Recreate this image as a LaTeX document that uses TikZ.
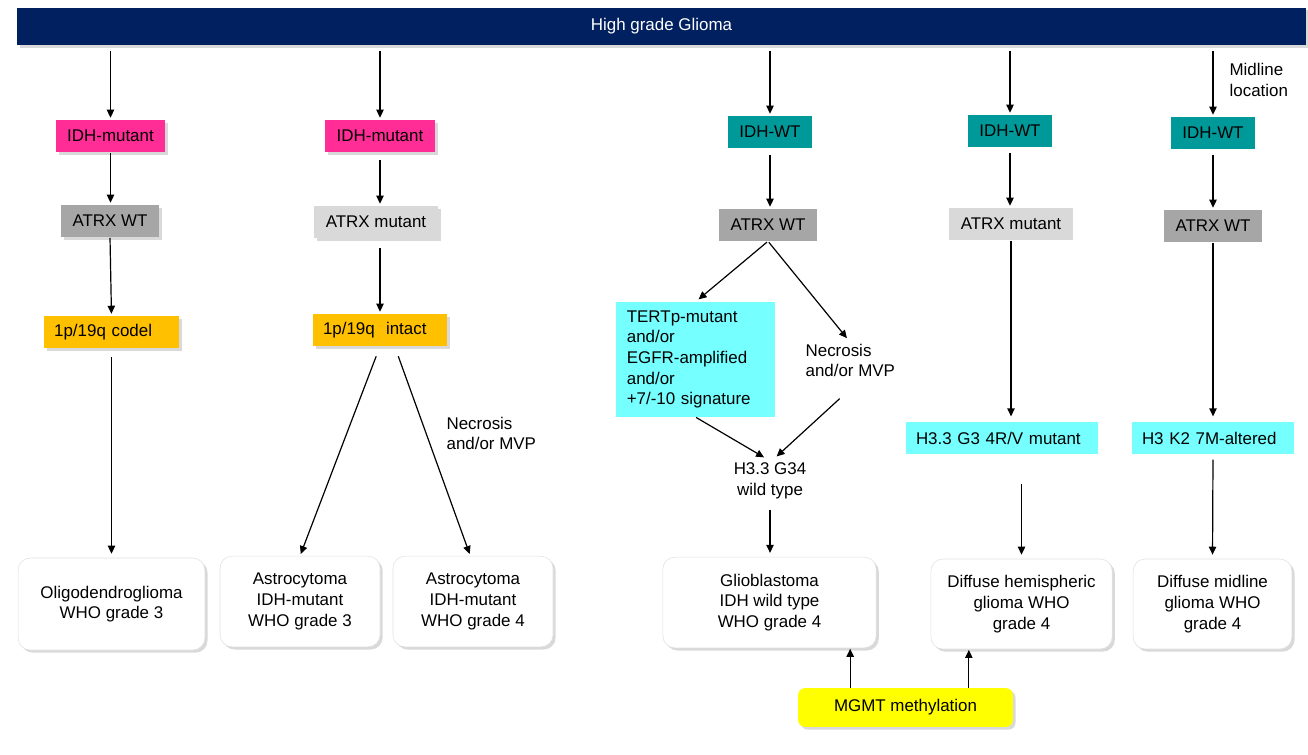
\documentclass[tikz,border=0pt]{standalone}
\usepackage{fontspec}
\setmainfont{Liberation Sans}
\usetikzlibrary{arrows.meta,shadows}

\definecolor{navybar}{RGB}{0,32,96}
\definecolor{idhpink}{RGB}{255,45,149}
\definecolor{idhteal}{RGB}{0,153,153}
\definecolor{atrxdark}{RGB}{166,166,166}
\definecolor{atrxlight}{RGB}{217,217,217}
\definecolor{codelorange}{RGB}{255,192,0}
\definecolor{histcyan}{RGB}{117,255,255}
\definecolor{mgmtyellow}{RGB}{255,255,0}

\tikzset{
  arr/.style={draw, line width=0.9pt, -{Triangle[length=6pt,width=5.5pt]}, shorten <=4pt, shorten >=1.5pt},
  boxshadow/.style={drop shadow={shadow xshift=2pt, shadow yshift=-2pt, opacity=0.3}},
  tag/.style={rectangle, inner sep=0pt, minimum height=24pt, align=center},
  tagleft/.style={rectangle, inner ysep=0pt, inner xsep=7.5pt, minimum height=24pt, align=left, text width=#1},
  result/.style={rectangle, rounded corners=9pt, fill=white, draw=black!12, inner sep=0pt, align=center, boxshadow},
  note/.style={inner sep=1pt, align=left},
}

\begin{document}
\begin{tikzpicture}[x=0.75pt, y=-0.75pt, font=\fontsize{12.7}{15.5}\selectfont]
  \useasboundingbox (0,0) rectangle (1308,755);

  % top bar
  \node[rectangle, fill=navybar, text=white, minimum width=967pt, minimum height=28pt, inner sep=0pt, boxshadow] (title) at (661.5,26.5) {High grade Glioma};

  % oligodendroglioma column
  \node[tag, fill=idhpink, minimum width=81.75pt, boxshadow] (idhA) at (110.5,136) {IDH-mutant};
  \node[tag, fill=atrxdark, minimum width=73.5pt, boxshadow] (atrxA) at (110,221) {ATRX WT};
  \node[tagleft=86pt, fill=codelorange, boxshadow] (codelA) at (111.5,332) {1p/19q codel};
  \node[result, minimum width=140pt, minimum height=69pt] (oligo) at (111.5,604) {Oligodendroglioma\\WHO grade 3};

  % astrocytoma column
  \node[tag, fill=idhpink, minimum width=82.5pt, boxshadow] (idhB) at (380,136) {IDH-mutant};
  \node[tag, fill=atrxlight, minimum width=93pt, boxshadow] (atrxB) at (376,222) {ATRX mutant};
  \node[tagleft=85.5pt, fill=codelorange, boxshadow] (intactB) at (380,330) {1p/19q\ \ intact};
  \node[note, anchor=west] (necB) at (445,433.5) {Necrosis\\and/or MVP};
  \node[result, minimum width=120pt, minimum height=68pt] (astroIII) at (300,601.5) {Astrocytoma\\IDH-mutant\\WHO grade 3};
  \node[result, minimum width=120pt, minimum height=68pt] (astroIV) at (473,601.5) {Astrocytoma\\IDH-mutant\\WHO grade 4};

  % glioblastoma column
  \node[tag, fill=idhteal, minimum width=63pt] (idhC) at (770,132) {IDH-WT};
  \node[tag, fill=atrxdark, minimum width=74pt] (atrxC) at (768,225) {ATRX WT};
  \node[tagleft=103pt, inner xsep=8pt, fill=histcyan, minimum height=86pt] (tertC) at (695.5,359.5) {TERTp-mutant\\and/or\\EGFR-amplified\\and/or\\+7/-10 signature};
  \node[note, anchor=west] (necC) at (804,360.5) {Necrosis\\and/or MVP};
  \node[note, align=center, inner sep=2pt] (wildC) at (770,481) {H3.3 G34\\wild type};
  \node[result, minimum width=160pt, minimum height=68pt] (gbm) at (769.5,602.5) {Glioblastoma\\IDH wild type\\WHO grade 4};

  % hemispheric column
  \node[tag, fill=idhteal, minimum width=63pt] (idhD) at (1010,131) {IDH-WT};
  \node[tag, fill=atrxlight, minimum width=93pt] (atrxD) at (1011,224) {ATRX mutant};
  \node[tagleft=129pt, fill=histcyan] (h33D) at (1002,438) {H3.3 G3 4R/V mutant};
  \node[result, minimum width=136pt, minimum height=67.5pt] (hemi) at (1021.5,604) {Diffuse hemispheric\\glioma WHO\\grade 4};

  % midline column
  \node[note, anchor=west] (midlineE) at (1228,80) {Midline\\location};
  \node[tag, fill=idhteal, minimum width=63pt] (idhE) at (1213,133) {IDH-WT};
  \node[tag, fill=atrxdark, minimum width=74pt] (atrxE) at (1213,226) {ATRX WT};
  \node[tagleft=106.5pt, fill=histcyan] (k27E) at (1213,438) {H3 K2 7M-altered};
  \node[result, minimum width=119pt, minimum height=67.5pt] (midl) at (1212.5,604) {Diffuse midline\\glioma WHO\\grade 4};

  \node[rectangle, rounded corners=5pt, fill=mgmtyellow, minimum width=161pt, minimum height=29pt, inner sep=0pt, boxshadow] (mgmt) at (905.5,707.5) {MGMT methylation};

  % connectors
  \draw[arr] (title.south -| idhA.north) -- (idhA.north);
  \draw[arr] (title.south -| idhB.north) -- (idhB.north);
  \draw[arr] (title.south -| idhC.north) -- (idhC.north);
  \draw[arr] (title.south -| idhD.north) -- (idhD.north);
  \draw[arr] (title.south -| idhE.north) -- (idhE.north);

  \draw[arr, shorten <=0.5pt] (idhA.south) -- (idhA.south |- atrxA.north);
  \draw[arr, shorten <=0.5pt] (atrxA.south) -- (codelA.north);
  \draw[arr, shorten <=6.5pt, shorten >=3pt] (codelA.south) -- (oligo.north);

  \draw[arr, shorten <=6pt] (idhB.south) -- (idhB.south |- atrxB.north);
  \draw[arr, shorten <=7.5pt] (atrxB.south -| intactB.north) -- (intactB.north);
  \draw[arr, shorten <=8pt] (intactB.south) -- (astroIII.north);
  \draw[arr, shorten <=8pt] ([xshift=11pt]intactB.south) -- ([xshift=-2pt]astroIV.north);

  \draw[arr, shorten <=5pt] (idhC.south) -- (idhC.south |- atrxC.north);
  \draw[arr, shorten <=1pt, shorten >=3pt] (atrxC.south) -- (tertC.north);
  \draw[arr, shorten <=1pt, shorten >=4pt] (atrxC.south) -- (necC.north);
  \draw[arr, shorten <=0.5pt, shorten >=4pt] (tertC.south) -- ([xshift=-1pt]wildC.north);
  \draw[arr, shorten <=0pt, shorten >=4pt] ([xshift=-8pt,yshift=-15pt]necC.south) -- ([xshift=2pt]wildC.north);
  \draw[arr, shorten <=6pt, shorten >=3pt] (wildC.south) -- (wildC.south |- gbm.north);

  \draw[arr, shorten <=4pt] (idhD.south) -- (idhD.south |- atrxD.north);
  \draw[arr, shorten <=0.5pt, shorten >=4pt] (atrxD.south) -- (atrxD.south |- h33D.north);
  \draw[arr, shorten <=22pt, shorten >=3pt] (h33D.south -| hemi.north) -- (hemi.north);

  \draw[arr, shorten <=4pt] (idhE.south) -- (idhE.south |- atrxE.north);
  \draw[arr, shorten <=0.5pt, shorten >=4pt] (atrxE.south) -- (k27E.north);
  \draw[arr, shorten <=4pt, shorten >=3pt] (k27E.south) -- (midl.north);

  \draw[arr, shorten <=0pt, shorten >=0.5pt] ([xshift=-41.5pt]mgmt.north) -- ([xshift=-41.5pt]mgmt.north |- gbm.south);
  \draw[arr, shorten <=0pt, shorten >=0.5pt] ([xshift=47.5pt]mgmt.north) -- ([xshift=47.5pt]mgmt.north |- hemi.south);
\end{tikzpicture}
\end{document}
